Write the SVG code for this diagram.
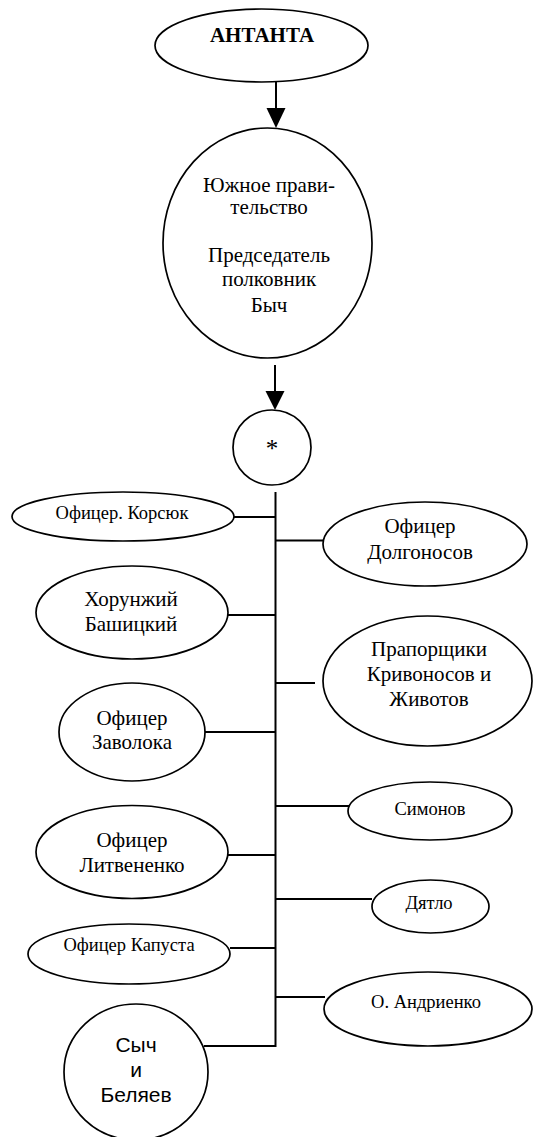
<svg xmlns="http://www.w3.org/2000/svg" width="533" height="1137" viewBox="0 0 533 1137">
<style>
.n{fill:#fff;stroke:#000;stroke-width:1.7}
.t{font-family:"Liberation Serif","Times New Roman",serif;font-size:21px;fill:#000;text-anchor:middle}
.s{font-size:18.5px}
.b{font-weight:bold;font-size:21px}
.a{font-family:"Liberation Sans",Arial,sans-serif;font-size:21px}
.c{stroke:#000;stroke-width:2;fill:none}
</style>
<rect width="533" height="1137" fill="#fff"/>
<g id="connectors">
<line class="c" x1="276" y1="82" x2="276" y2="108"/>
<path d="M266.5,108 L285.5,108 L276,128 Z" fill="#000"/>
<line class="c" x1="275" y1="365" x2="275" y2="392"/>
<path d="M265.5,391 L284.5,391 L275,410 Z" fill="#000"/>
<line class="c" x1="275.5" y1="492" x2="275.5" y2="1047"/>
<line class="c" x1="234" y1="517" x2="275.5" y2="517"/>
<line class="c" x1="275.5" y1="540.5" x2="323" y2="540.5"/>
<line class="c" x1="203" y1="615" x2="275.5" y2="615"/>
<line class="c" x1="275.5" y1="683" x2="315" y2="683"/>
<line class="c" x1="205" y1="732" x2="275.5" y2="732"/>
<line class="c" x1="275.5" y1="806" x2="353" y2="806"/>
<line class="c" x1="228" y1="855" x2="275.5" y2="855"/>
<line class="c" x1="275.5" y1="899" x2="372" y2="899"/>
<line class="c" x1="230" y1="948" x2="275.5" y2="948"/>
<line class="c" x1="275.5" y1="997" x2="325" y2="997"/>
<line class="c" x1="204" y1="1046" x2="275.5" y2="1046"/>
</g>
<g id="antanta">
<ellipse class="n" cx="261.5" cy="45.5" rx="106.5" ry="36.5"/>
<text class="t b" x="262" y="42">АНТАНТА</text>
</g>
<g id="south-gov">
<ellipse class="n" cx="267.5" cy="243" rx="104.5" ry="115"/>
<text class="t" x="269" y="192">Южное прави-</text>
<text class="t" x="269" y="214">тельство</text>
<text class="t" x="269" y="262">Председатель</text>
<text class="t" x="269" y="286">полковник</text>
<text class="t" x="269" y="312">Быч</text>
</g>
<g id="star">
<ellipse class="n" cx="272" cy="447.5" rx="39" ry="37.5"/>
<text class="t" x="272" y="457" style="font-size:25px">*</text>
</g>
<g id="korsyuk">
<ellipse class="n" cx="123" cy="516.5" rx="111" ry="24.5"/>
<text class="t s" x="122" y="519">Офицер. Корсюк</text>
</g>
<g id="dolgonosov">
<ellipse class="n" cx="425" cy="544" rx="102" ry="42"/>
<text class="t" x="420" y="533">Офицер</text>
<text class="t" x="420" y="559">Долгоносов</text>
</g>
<g id="bashitsky">
<ellipse class="n" cx="132" cy="612.5" rx="96" ry="46.5"/>
<text class="t" x="131" y="606">Хорунжий</text>
<text class="t" x="131" y="631">Башицкий</text>
</g>
<g id="praporshchiki">
<ellipse class="n" cx="427.5" cy="681" rx="104.5" ry="65"/>
<text class="t" x="429" y="656">Прапорщики</text>
<text class="t" x="429" y="681">Кривоносов и</text>
<text class="t" x="429" y="706">Животов</text>
</g>
<g id="zavoloka">
<ellipse class="n" cx="132" cy="732" rx="73" ry="49"/>
<text class="t" x="132" y="725">Офицер</text>
<text class="t" x="132" y="749">Заволока</text>
</g>
<g id="simonov">
<ellipse class="n" cx="430" cy="811" rx="82" ry="29"/>
<text class="t s" x="430" y="815">Симонов</text>
</g>
<g id="litvenenko">
<ellipse class="n" cx="132" cy="852" rx="96" ry="46.5"/>
<text class="t" x="132" y="847">Офицер</text>
<text class="t" x="132" y="872">Литвененко</text>
</g>
<g id="dyatlo">
<ellipse class="n" cx="430.5" cy="906.5" rx="58.5" ry="26.5"/>
<text class="t s" x="429" y="909">Дятло</text>
</g>
<g id="kapusta">
<ellipse class="n" cx="129" cy="954" rx="101" ry="30"/>
<text class="t s" x="129" y="951">Офицер Капуста</text>
</g>
<g id="andrienko">
<ellipse class="n" cx="428" cy="1009" rx="104" ry="37"/>
<text class="t s" x="426" y="1008">О. Андриенко</text>
</g>
<g id="sych-belyaev">
<ellipse class="n" cx="136" cy="1072" rx="72" ry="68"/>
<text class="t a" x="136" y="1052">Сыч</text>
<text class="t a" x="136" y="1077">и</text>
<text class="t a" x="136" y="1102">Беляев</text>
</g>
</svg>
